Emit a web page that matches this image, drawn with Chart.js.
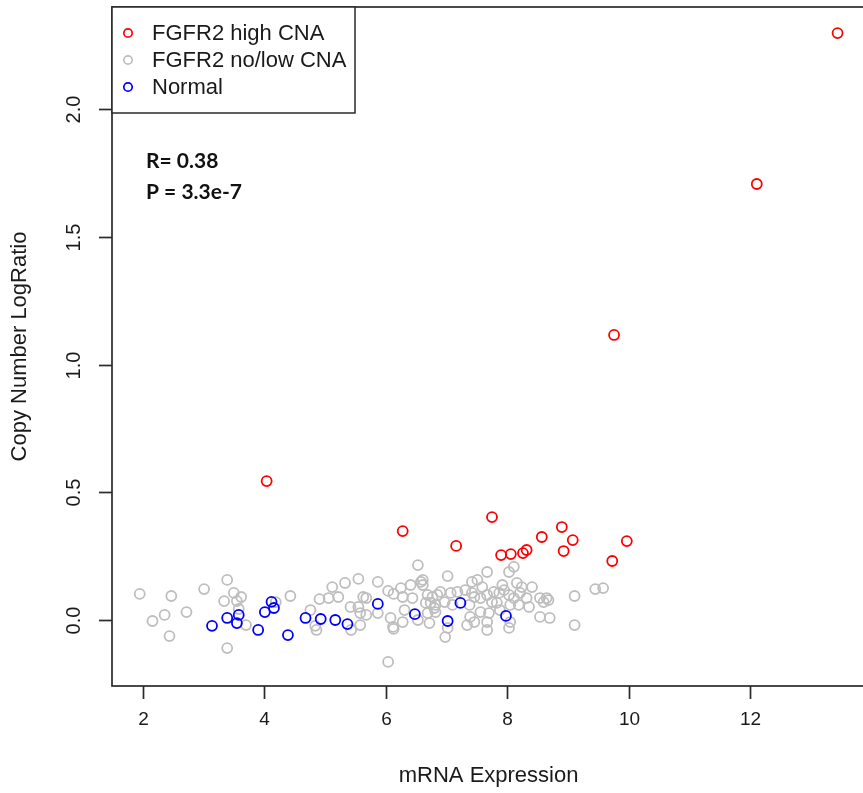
<!DOCTYPE html>
<html>
<head>
<meta charset="utf-8">
<script src="https://cdn.jsdelivr.net/npm/chart.js@4.4.1/dist/chart.umd.min.js"></script>
<style>
  html, body { margin: 0; padding: 0; background: #fff; overflow: hidden; }
  #wrap { width: 872px; height: 793px; }
</style>
</head>
<body>
<div id="wrap"><canvas id="c" width="872" height="793"></canvas></div>
<script>
// Series names and annotation text
const seriesNames = ['FGFR2 high CNA', 'FGFR2 no/low CNA', 'Normal'];
const statLines = ['R= 0.38', 'P = 3.3e-7'];
const xTitle = 'mRNA Expression';
const yTitle = 'Copy Number LogRatio';

// Axis ticks
const xTicks = [2, 4, 6, 8, 10, 12];
const yTicks = [0, 0.5, 1, 1.5, 2];
const yTickLabels = ['0.0', '0.5', '1.0', '1.5', '2.0'];

// FGFR2 high CNA samples
const highExpr = [13.44, 12.11, 9.76, 4.04, 6.28, 7.75, 7.16, 7.90, 8.06, 8.26, 8.32, 8.57, 8.90, 8.93, 9.08, 9.73, 9.97];
const highCN   = [2.298, 1.707, 1.116, 0.544, 0.348, 0.403, 0.290, 0.254, 0.258, 0.262, 0.274, 0.325, 0.364, 0.270, 0.313, 0.231, 0.309];

// Normal samples
const normalExpr = [3.14, 3.39, 3.55, 3.58, 3.90, 4.01, 4.12, 4.16, 4.39, 4.68, 4.93, 5.17, 5.37, 5.87, 6.48, 7.02, 7.23, 7.98];
const normalCN   = [-0.023, 0.008, -0.012, 0.020, -0.039, 0.031, 0.071, 0.047, -0.059, 0.008, 0.004, 0.000, -0.016, 0.063, 0.023, -0.004, 0.067, 0.016];

// FGFR2 no/low CNA samples
const lowExpr = [
  1.95, 2.16, 2.36, 2.44, 2.47, 2.72, 3.01, 3.39, 3.34, 3.50, 3.62, 3.55, 3.58, 3.70, 3.39, 4.19, 4.43,
  4.76, 4.84, 4.86, 4.91, 5.06, 5.12, 5.22, 5.33, 5.55, 5.42, 5.55, 5.58, 5.68, 5.63, 5.68, 5.87, 5.87,
  5.58, 5.43, 6.04, 6.13, 6.08, 6.12, 6.13, 6.04,
  6.53, 6.61, 7.02, 6.41, 6.61, 6.25, 7.42, 6.28, 6.44, 6.69, 6.77, 6.90, 7.07, 7.18, 7.31, 7.42,
  6.66, 6.82, 6.97, 7.10, 7.38, 6.31, 6.69, 6.82, 7.39, 6.28, 6.72, 7.34, 7.46, 7.02, 6.98, 6.53,
  6.58, 6.74, 6.80, 6.85,
  7.67, 8.11, 8.03, 7.51, 7.59, 7.92, 8.16, 8.24, 8.41, 7.46, 7.56, 7.67, 7.78, 7.87, 7.95, 8.03,
  8.11, 8.21, 8.32, 7.75, 7.83, 8.05, 8.19, 8.36, 7.56, 7.70, 7.88, 7.67, 8.05, 8.54, 8.54, 7.67,
  8.03, 8.60, 8.65, 8.68, 8.70, 9.11, 9.11, 9.45, 9.58
];
const lowCN = [
  0.102, -0.004, 0.020, -0.063, 0.094, 0.031, 0.121, 0.157, 0.074, 0.106, 0.090, 0.074, 0.043, -0.020, -0.110, 0.070, 0.094,
  0.039, -0.023, -0.039, 0.082, 0.086, 0.129, 0.090, 0.145, 0.161, 0.051, 0.051, 0.027, 0.020, 0.090, 0.086, 0.149, 0.027,
  -0.020, -0.039, 0.114, 0.102, 0.008, -0.027, -0.035, -0.164,
  0.215, 0.157, 0.172, 0.137, 0.137, 0.125, 0.149, 0.090, 0.086, 0.098, 0.090, 0.110, 0.106, 0.110, 0.117, 0.106,
  0.067, 0.059, 0.070, 0.059, 0.059, 0.039, 0.027, 0.031, 0.012, -0.008, -0.012, -0.020, -0.008, -0.031, -0.067, 0.000,
  0.149, 0.067, 0.047, 0.098,
  0.188, 0.208, 0.188, 0.157, 0.129, 0.137, 0.145, 0.129, 0.129, 0.090, 0.086, 0.098, 0.110, 0.106, 0.117, 0.098,
  0.086, 0.106, 0.086, 0.070, 0.067, 0.059, 0.059, 0.051, 0.031, 0.027, 0.039, -0.008, -0.008, 0.086, 0.012, -0.039,
  -0.031, 0.070, 0.086, 0.078, 0.008, 0.094, -0.020, 0.121, 0.125
];

const colors = ['#ff0000', '#bebebe', '#0000ff'];

function toPoints(xs, ys) {
  return xs.map((x, i) => ({ x: x, y: ys[i] }));
}

const FONT = '"Liberation Sans", Arial, sans-serif';
const INK = '#1a1a1a';

// Base-graphics style frame, ticks, titles, legend and annotation
const basePlot = {
  id: 'basePlot',
  afterDraw(chart) {
    const ctx = chart.ctx;
    const a = chart.chartArea;
    const xs = chart.scales.x;
    const ys = chart.scales.y;
    ctx.save();

    // frame
    ctx.strokeStyle = '#2a2a2a';
    ctx.lineWidth = 1.7;
    ctx.strokeRect(a.left, a.top, a.right - a.left, a.bottom - a.top);

    // x ticks and labels
    ctx.fillStyle = INK;
    ctx.font = '19px ' + FONT;
    ctx.textAlign = 'center';
    ctx.textBaseline = 'middle';
    xTicks.forEach(v => {
      const px = Math.round(xs.getPixelForValue(v)) + 0.5;
      ctx.beginPath();
      ctx.moveTo(px, a.bottom);
      ctx.lineTo(px, a.bottom + 13);
      ctx.stroke();
      ctx.fillText(String(v), px, a.bottom + 34);
    });

    // y ticks and rotated labels
    yTicks.forEach((v, i) => {
      const py = Math.round(ys.getPixelForValue(v)) + 0.5;
      ctx.beginPath();
      ctx.moveTo(a.left - 13, py);
      ctx.lineTo(a.left, py);
      ctx.stroke();
      ctx.save();
      ctx.translate(a.left - 38, py);
      ctx.rotate(-Math.PI / 2);
      ctx.font = '20px ' + FONT;
      ctx.fillText(yTickLabels[i], 0, 0);
      ctx.restore();
    });

    // axis titles
    ctx.font = '22px ' + FONT;
    ctx.fillText(xTitle, (a.left + a.right) / 2, 776);
    ctx.save();
    ctx.translate(20, (a.top + a.bottom) / 2);
    ctx.rotate(-Math.PI / 2);
    ctx.fillText(yTitle, 0, 0);
    ctx.restore();

    // legend box
    const lx = a.left, ly = a.top, lw = 243, lh = 106;
    ctx.fillStyle = '#fff';
    ctx.fillRect(lx, ly, lw, lh);
    ctx.strokeStyle = '#2a2a2a';
    ctx.lineWidth = 1.5;
    ctx.strokeRect(lx, ly, lw, lh);
    ctx.font = '22px ' + FONT;
    ctx.textAlign = 'left';
    seriesNames.forEach((name, i) => {
      const cy = ly + 26 + 27 * i;
      ctx.beginPath();
      ctx.arc(lx + 16, cy, 4.2, 0, Math.PI * 2);
      ctx.strokeStyle = colors[i];
      ctx.lineWidth = 1.7;
      ctx.stroke();
      ctx.fillStyle = INK;
      ctx.fillText(name, lx + 40, cy + 1);
    });

    // correlation annotation
    ctx.font = 'bold 21px Lato, "Liberation Sans", sans-serif';
    ctx.fillStyle = '#111';
    ctx.fillText(statLines[0], a.left + 34, 161);
    ctx.fillText(statLines[1], a.left + 34, 192);

    ctx.restore();
  }
};

const pointStyle = (color) => ({
  pointStyle: 'circle',
  pointRadius: 5,
  pointHoverRadius: 5,
  pointBorderWidth: 1.8,
  borderColor: color,
  backgroundColor: 'rgba(0,0,0,0)',
  showLine: false
});

new Chart(document.getElementById('c'), {
  type: 'scatter',
  data: {
    datasets: [
      Object.assign({ label: seriesNames[0], data: toPoints(highExpr, highCN), order: 0 }, pointStyle(colors[0])),
      Object.assign({ label: seriesNames[1], data: toPoints(lowExpr, lowCN), order: 2 }, pointStyle(colors[1])),
      Object.assign({ label: seriesNames[2], data: toPoints(normalExpr, normalCN), order: 1 }, pointStyle(colors[2]))
    ]
  },
  options: {
    responsive: false,
    animation: false,
    devicePixelRatio: 1,
    events: [],
    layout: { padding: { left: 0, top: 7, right: 1, bottom: 0 } },
    plugins: { legend: { display: false }, tooltip: { enabled: false } },
    scales: {
      x: {
        type: 'linear',
        min: 1.4935,
        max: 13.895,
        grid: { display: false },
        border: { display: false },
        ticks: { display: false },
        afterFit: (s) => { s.height = 107; }
      },
      y: {
        type: 'linear',
        min: -0.2584,
        max: 2.400,
        grid: { display: false },
        border: { display: false },
        ticks: { display: false },
        afterFit: (s) => { s.width = 112; }
      }
    }
  },
  plugins: [basePlot]
});
</script>
</body>
</html>
